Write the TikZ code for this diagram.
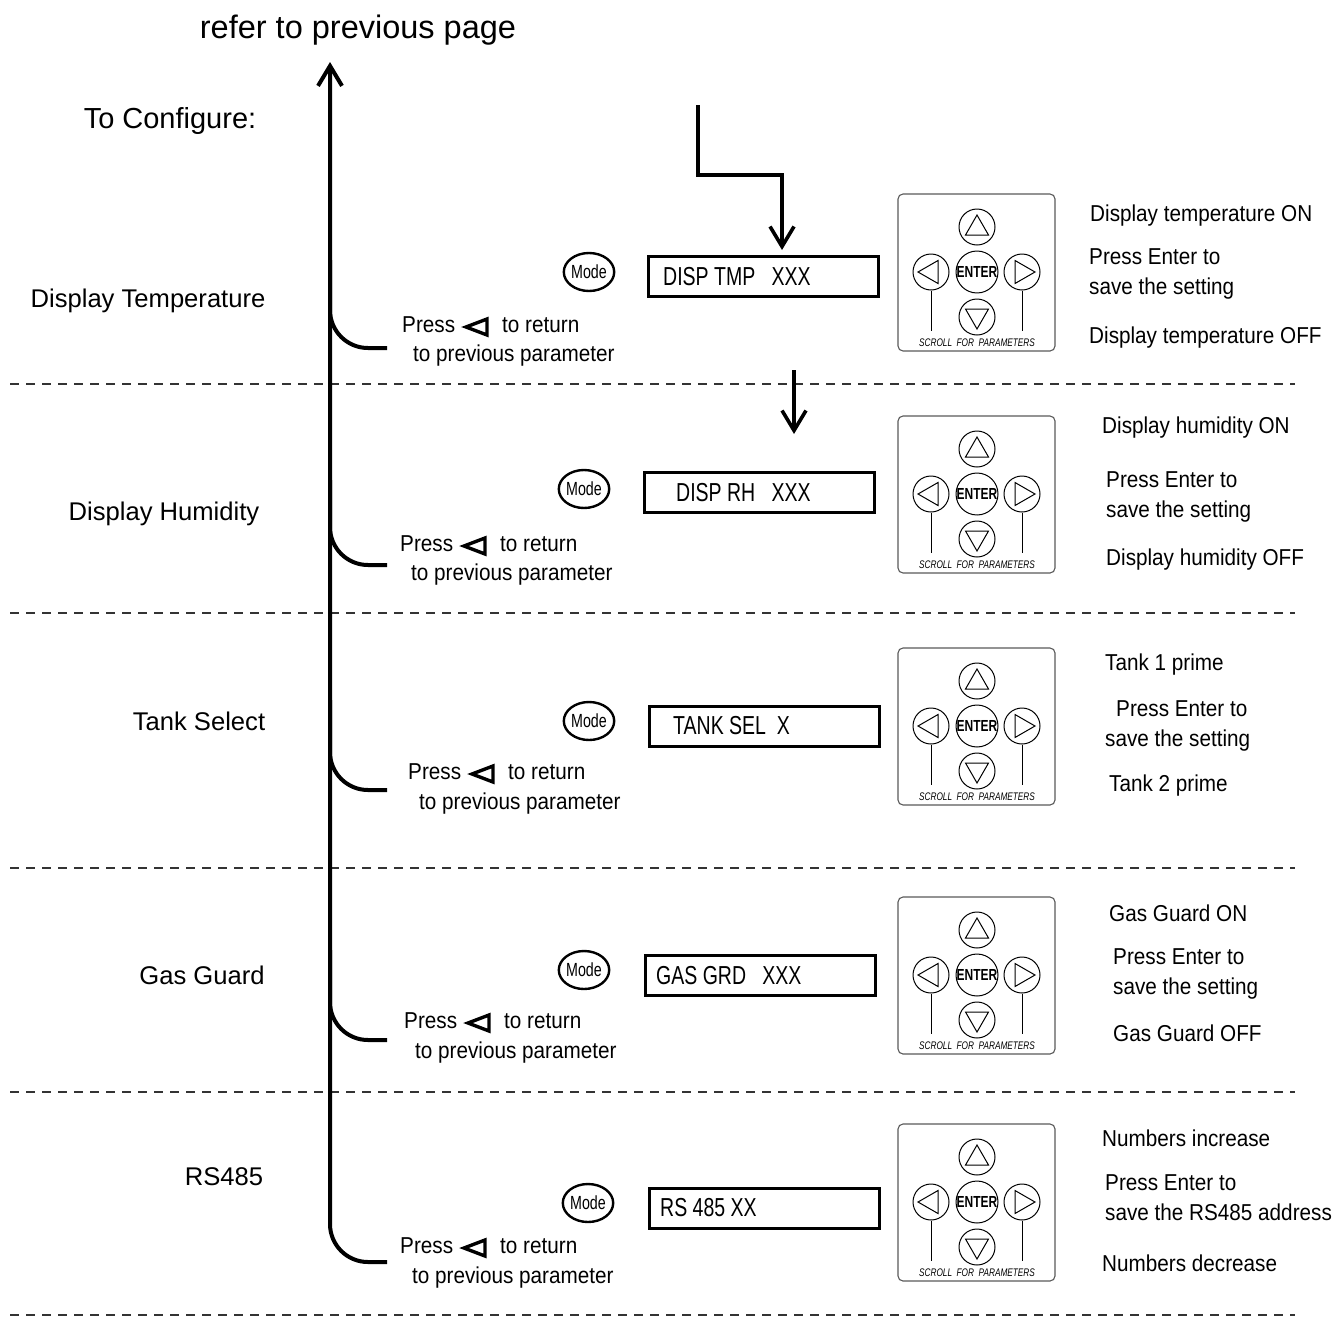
\documentclass[tikz,border=0pt]{standalone}
\usepackage{fontspec}
\setmainfont{Liberation Sans}[FakeStretch=0.9]
\newfontfamily\plainf{Liberation Sans}
\newfontfamily\condf{Liberation Sans}[FakeStretch=0.75]
\usetikzlibrary{arrows.meta,shapes.geometric}
\tikzset{
  sect/.style={font=\plainf\fontsize{25.6}{30}\selectfont, anchor=base, inner sep=0},
  toptx/.style={font=\plainf\fontsize{32.5}{38}\selectfont, anchor=base, inner sep=0},
  conftx/.style={font=\plainf\fontsize{29}{34}\selectfont, anchor=base, inner sep=0},
  rtx/.style={font=\fontsize{23}{28}\selectfont, anchor=base west, inner sep=0},
  dtx/.style={font=\condf\fontsize{26}{30}\selectfont, anchor=base west, inner sep=0},
  dispbox/.style={draw, line width=3pt, minimum width=230, minimum height=40, inner sep=0, anchor=north west},
  modeb/.style={ellipse, draw, line width=2.4pt, minimum width=50, minimum height=38, inner sep=0,
    font=\condf\fontsize{19}{22}\selectfont},
  mainln/.style={line width=4pt},
  barb/.style={-{Straight Barb[length=20pt,width=24pt]}},
  sep/.style={line width=1.1pt, draw=black!80, dash pattern=on 9pt off 7pt},
  kpbox/.style={draw=black!65, line width=1.1pt, rounded corners=5pt, minimum size=157, inner sep=0},
  kpbtn/.style={circle, draw, line width=1pt, minimum size=36, inner sep=0},
  kpline/.style={line width=1pt},
  entf/.style={font=\condf\bfseries\fontsize{16}{18}\selectfont},
  scrollt/.style={font=\condf\itshape\fontsize{11}{13}\selectfont, inner sep=0},
  ptri/.style={line width=3.4pt, line join=miter},
  keypad/.pic={
    \node[kpbox] (-box) at (78.5,78.5) {};
    \node[kpbtn] (-up) at (79,33) {};
    \node[kpbtn] (-lt) at (33,78) {};
    \node[kpbtn, entf] (-en) at (79,78) {ENTER};
    \node[kpbtn] (-rt) at (124,78) {};
    \node[kpbtn] (-dn) at (79,123) {};
    \node[scrollt] (-sc) at (79,149) {SCROLL\ \ FOR\ \ PARAMETERS};
    \draw[kpline] (-lt.south) -- ++(0,40);
    \draw[kpline] (-rt.south) -- ++(0,40);
    \draw[kpline] (79,21) -- (67.5,41) -- (90.5,41) -- cycle;
    \draw[kpline] (79,135) -- (67.5,115) -- (90.5,115) -- cycle;
    \draw[kpline] (20,78) -- (40,66.5) -- (40,89.5) -- cycle;
    \draw[kpline] (137,78) -- (117,66.5) -- (117,89.5) -- cycle;
  },
  pressret/.pic={
    \node[rtx] (-p) at (0,0) {Press};
    \draw[ptri] (64,-5) -- (85,-13) -- (85,3) -- cycle;
    \node[rtx] (-r) at (100,0) {to return};
  }
}
\begin{document}
\begin{tikzpicture}[x=1pt,y=-1pt]
\useasboundingbox (0,0) rectangle (1343,1317);

% headings
\node[toptx] (refer) at (358,38) {refer to previous page};
\node[conftx] (config) at (170,128) {To Configure:};

% separators
\draw[sep] (10,384) -- (1295,384);
\draw[sep] (10,613) -- (1295,613);
\draw[sep] (10,868) -- (1295,868);
\draw[sep] (10,1092) -- (1295,1092);
\draw[sep] (10,1315) -- (1295,1315);

% main return line
\coordinate (top) at (330,62);
\coordinate (e1) at (387,348);
\coordinate (e2) at (387,565);
\coordinate (e3) at (387,790);
\coordinate (e4) at (387,1040);
\coordinate (e5) at (387,1262);
\draw[mainln, rounded corners=38pt, barb] (e5) -| (top);
\draw[mainln, rounded corners=38pt] (e1) -| (330,260);
\draw[mainln, rounded corners=38pt] (e2) -| (330,480);
\draw[mainln, rounded corners=38pt] (e3) -| (330,700);
\draw[mainln, rounded corners=38pt] (e4) -| (330,950);

% ===== Section 1
\node[sect] (lab1) at (148,307) {Display Temperature};
\node[modeb] (mode1) at (589,272) {Mode};
\node[dispbox] (box1) at (647,255) {};
\node[dtx] (dt1) at (663,285) {DISP TMP\ \ \ XXX};
\pic (kp1) at (898,194) {keypad};
\node[rtx] (r1a) at (1090,221) {Display temperature ON};
\node[rtx] (r1b) at (1089,264) {Press Enter to};
\node[rtx] (r1c) at (1089,294) {save the setting};
\node[rtx] (r1d) at (1089,343) {Display temperature OFF};
\pic (pr1) at (402,332) {pressret};
\node[rtx] (pp1) at (413,361) {to previous parameter};
\coordinate (in1) at (698,105);
\coordinate (mid1) at (782,175);
\draw[mainln, line width=3.6pt, barb, shorten >=5pt] (in1) |- (mid1) -- (mid1 |- box1.north);

% ===== Section 2
\node[sect] (lab2) at (164,520) {Display Humidity};
\node[modeb] (mode2) at (584,489) {Mode};
\node[dispbox] (box2) at (643,471) {};
\node[dtx] (dt2) at (676,501) {DISP RH\ \ \ XXX};
\pic (kp2) at (898,416) {keypad};
\node[rtx] (r2a) at (1102,433) {Display humidity ON};
\node[rtx] (r2b) at (1106,487) {Press Enter to};
\node[rtx] (r2c) at (1106,517) {save the setting};
\node[rtx] (r2d) at (1106,565) {Display humidity OFF};
\pic (pr2) at (400,551) {pressret};
\node[rtx] (pp2) at (411,580) {to previous parameter};
\coordinate (a2s) at (794,370);
\coordinate (a2e) at (794,434);
\draw[mainln, line width=3.6pt, barb] (a2s) -- (a2e);

% ===== Section 3
\node[sect] (lab3) at (199,730) {Tank Select};
\node[modeb] (mode3) at (589,721) {Mode};
\node[dispbox] (box3) at (648,705) {};
\node[dtx] (dt3) at (673,734) {TANK SEL\ \ X};
\pic (kp3) at (898,648) {keypad};
\node[rtx] (r3a) at (1105,670) {Tank 1 prime};
\node[rtx] (r3b) at (1116,716) {Press Enter to};
\node[rtx] (r3c) at (1105,746) {save the setting};
\node[rtx] (r3d) at (1109,791) {Tank 2 prime};
\pic (pr3) at (408,779) {pressret};
\node[rtx] (pp3) at (419,809) {to previous parameter};

% ===== Section 4
\node[sect] (lab4) at (202,984) {Gas Guard};
\node[modeb] (mode4) at (584,970) {Mode};
\node[dispbox] (box4) at (644,954) {};
\node[dtx] (dt4) at (656,984) {GAS GRD\ \ \ XXX};
\pic (kp4) at (898,897) {keypad};
\node[rtx] (r4a) at (1109,921) {Gas Guard ON};
\node[rtx] (r4b) at (1113,964) {Press Enter to};
\node[rtx] (r4c) at (1113,994) {save the setting};
\node[rtx] (r4d) at (1113,1041) {Gas Guard OFF};
\pic (pr4) at (404,1028) {pressret};
\node[rtx] (pp4) at (415,1058) {to previous parameter};

% ===== Section 5
\node[sect] (lab5) at (224,1185) {RS485};
\node[modeb] (mode5) at (588,1203) {Mode};
\node[dispbox] (box5) at (648,1187) {};
\node[dtx] (dt5) at (660,1216) {RS 485 XX};
\pic (kp5) at (898,1124) {keypad};
\node[rtx] (r5a) at (1102,1146) {Numbers increase};
\node[rtx] (r5b) at (1105,1190) {Press Enter to};
\node[rtx] (r5c) at (1105,1220) {save the RS485 address};
\node[rtx] (r5d) at (1102,1271) {Numbers decrease};
\pic (pr5) at (400,1253) {pressret};
\node[rtx] (pp5) at (412,1283) {to previous parameter};
\end{tikzpicture}
\end{document}
